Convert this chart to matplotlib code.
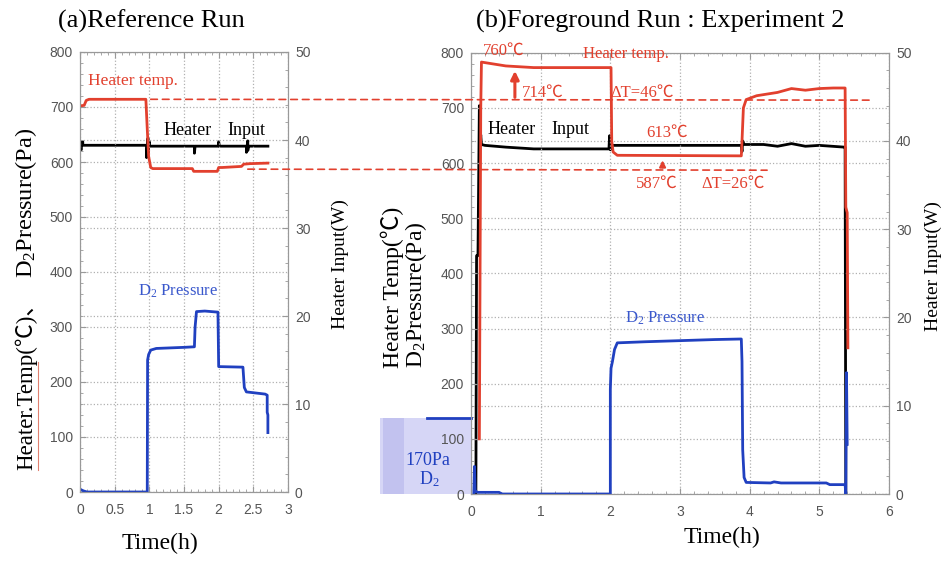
import matplotlib
matplotlib.use("Agg")
import matplotlib.pyplot as plt
from matplotlib.patches import ConnectionPatch, Rectangle
from matplotlib.lines import Line2D
from matplotlib.ticker import MultipleLocator

plt.rcParams['mathtext.fontset'] = 'custom'
plt.rcParams['mathtext.rm'] = 'Liberation Serif'
plt.rcParams['mathtext.it'] = 'Liberation Serif'

SERIF = ['Liberation Serif', 'Noto Sans CJK JP', 'DejaVu Serif']
RED = '#e2402e'
BLUE = '#2040c0'
BLUE_TXT = '#3a58cc'
TICKC = '#555555'

# ---------------- (a) reference run ----------------
ref_temp_t = [0.0, 0.06, 0.09, 0.13, 0.95, 0.97, 0.99, 1.02, 1.05, 1.62, 1.64, 1.98, 2.0, 2.05,
              2.33, 2.36, 2.45, 2.71]
ref_temp = [702, 703, 712, 714, 714, 660, 610, 590, 588, 588, 583, 583, 590, 590, 592, 596, 597, 598]

ref_input_t = [0.0, 0.02, 0.02, 0.04, 0.04, 0.3, 0.96, 0.96, 0.98, 0.98, 1.0, 1.0, 1.65, 1.65,
               1.66, 2.0, 2.0, 2.01, 2.4, 2.4, 2.42, 2.42, 2.43, 2.71]
ref_input = [38.9, 38.9, 39.8, 39.8, 39.4, 39.4, 39.4, 38.0, 40.2, 38.5, 39.8, 39.3, 39.3, 38.5,
             39.3, 39.3, 39.8, 39.3, 39.3, 38.6, 39.9, 38.8, 39.3, 39.3]

ref_d2_t = [0.0, 0.05, 0.1, 0.97, 0.975, 0.99, 1.02, 1.1, 1.5, 1.65, 1.66, 1.68, 1.8, 1.99, 2.0,
            2.35, 2.37, 2.4, 2.67, 2.70, 2.70, 2.71, 2.71]
ref_d2 = [5, 2, 0, 0, 240, 250, 258, 261, 263, 264, 300, 328, 329, 327, 228, 227, 190, 182, 178,
          176, 145, 140, 108]

# ---------------- (b) foreground run ----------------
fg_temp_t = [0.12, 0.13, 0.14, 0.15, 0.2, 0.5, 0.9, 2.01, 2.02, 2.04, 2.1, 3.88, 3.89, 3.91, 3.95,
             4.1, 4.4, 4.6, 4.8, 5.0, 5.2, 5.37, 5.38, 5.40, 5.41]
fg_temp = [100, 400, 700, 783, 782, 776, 773, 773, 640, 620, 614, 613, 640, 700, 715, 722, 728,
           735, 732, 735, 736, 736, 520, 510, 265]

fg_input_t = [0.07, 0.08, 0.1, 0.12, 0.13, 0.14, 0.15, 0.2, 0.5, 0.9, 1.5, 1.98, 1.99, 2.0, 2.02,
              2.05, 2.5, 3.0, 3.88, 3.89, 3.9, 3.92, 4.2, 4.4, 4.6, 4.8, 5.0, 5.36, 5.37, 5.38]
fg_input = [0, 27, 27, 44, 39.5, 40.7, 39.6, 39.5, 39.3, 39.1, 39.1, 39.1, 40.6, 39.0, 39.5, 39.5,
            39.5, 39.5, 39.5, 38.8, 40.0, 39.6, 39.6, 39.4, 39.7, 39.4, 39.5, 39.3, 39.3, 0]

fg_d2_t = [0.04, 0.05, 0.06, 0.08, 0.1, 0.4, 0.45, 2.0, 2.0, 2.01, 2.03, 2.06, 2.1, 2.5, 3.0, 3.5,
           3.88, 3.89, 3.9, 3.92, 3.95, 4.3, 4.35, 4.45, 5.1, 5.15, 5.37, 5.38, 5.39, 5.40]
fg_d2 = [0, 50, 5, 4, 3, 3, 0, 0, 190, 228, 240, 262, 274, 276, 278, 280, 281, 240, 80, 30, 21, 20,
         22, 20, 20, 17, 17, 0, 220, 90]

# initial D2 fill marker (outside plot, left of t=0)
pre_d2_t = [-0.63, 0.0]
pre_d2 = [138, 138]

# reference temperatures (dashed lines)
temp_hi = 714
temp_lo = 587


def px(x, y):
    return x / 948.0, 1 - y / 562.0


def style_axes(ax, ax2, xmax, xmajor, xminor):
    ax.set_xlim(0, xmax)
    ax.set_ylim(0, 800)
    ax2.set_ylim(0, 50)
    ax.xaxis.set_major_locator(MultipleLocator(xmajor))
    ax.xaxis.set_minor_locator(MultipleLocator(xminor))
    ax.yaxis.set_major_locator(MultipleLocator(100))
    ax.yaxis.set_minor_locator(MultipleLocator(20))
    ax2.yaxis.set_major_locator(MultipleLocator(10))
    ax2.yaxis.set_minor_locator(MultipleLocator(2))
    ax.tick_params(which='both', direction='in', top=True, right=False, colors='#999999',
                   labelcolor=TICKC, labelsize=10)
    ax.tick_params(which='major', length=4, pad=5)
    ax.tick_params(axis='x', which='major', pad=8)
    ax.tick_params(which='minor', length=2)
    ax2.tick_params(which='both', direction='in', colors='#999999', labelcolor=TICKC, labelsize=10)
    ax2.tick_params(which='major', length=4, pad=5)
    ax2.tick_params(which='minor', length=2)
    for a in (ax, ax2):
        for s in a.spines.values():
            s.set_color('#999999')
            s.set_linewidth(0.8)
    ax.grid(True, which='major', color='#b0b0b0', ls=':', lw=0.9)
    ax2.grid(True, which='major', axis='y', color='#b0b0b0', ls=':', lw=0.9)
    for lab in ax.get_xticklabels() + ax.get_yticklabels() + ax2.get_yticklabels():
        lab.set_family('Liberation Sans')


fig = plt.figure(figsize=(9.48, 5.62), dpi=100)

# ----- panel a -----
axa = fig.add_axes([80 / 948, 1 - 492 / 562, 208 / 948, 440 / 562])
axa2 = axa.twinx()
axa.set_zorder(axa2.get_zorder() + 1)
axa.patch.set_visible(False)
axa2.plot(ref_input_t, ref_input, color='black', lw=2)
axa.plot(ref_temp_t, ref_temp, color=RED, lw=2)
axa.plot(ref_d2_t, ref_d2, color=BLUE, lw=2)
style_axes(axa, axa2, 3, 0.5, 0.1)
axa.set_xticks([0, 0.5, 1, 1.5, 2, 2.5, 3])
axa.set_xticklabels(['0', '0.5', '1', '1.5', '2', '2.5', '3'])
for lab in axa.get_xticklabels():
    lab.set_family('Liberation Sans')

axa.text(0.12, 747, 'Heater temp.', color=RED, fontsize=12.5, family=SERIF, va='center')
axa.text(1.2, 658, 'Heater', color='black', fontsize=13, family=SERIF, va='center')
axa.text(2.13, 658, 'Input', color='black', fontsize=13, family=SERIF, va='center')
axa.text(0.84, 365, 'D$_2$ Pressure', color=BLUE_TXT, fontsize=12, family=SERIF, va='center')

# ----- panel b -----
axb = fig.add_axes([471 / 948, 1 - 494 / 562, 418 / 948, 441.3 / 562])
axb2 = axb.twinx()
axb.set_zorder(axb2.get_zorder() + 1)
axb.patch.set_visible(False)
axb2.plot(fg_input_t, fg_input, color='black', lw=2)
axb.plot(fg_temp_t, fg_temp, color=RED, lw=2)
axb.plot(fg_d2_t, fg_d2, color=BLUE, lw=2)
style_axes(axb, axb2, 6, 1, 0.2)

# initial D2 box left of the axis
axb.add_patch(Rectangle((-1.31, 0), 1.31, 138, facecolor='#d6d6f6', edgecolor='none',
                        clip_on=False, zorder=0))
axb.add_patch(Rectangle((-1.26, 0), 0.30, 138, facecolor='#c2c2ef', edgecolor='none',
                        clip_on=False, zorder=0))
axb.plot(pre_d2_t, pre_d2, color=BLUE, lw=2, clip_on=False)
axb.text(-0.62, 61, '170Pa', color=BLUE, fontsize=13, family=SERIF, ha='center', va='center')
axb.text(-0.60, 27, 'D$_2$', color=BLUE, fontsize=13, family=SERIF, ha='center', va='center')

axb.text(0.17, 803, '760℃', color=RED, fontsize=12, family=SERIF, va='center', clip_on=False)
axb.text(1.61, 797, 'Heater temp.', color=RED, fontsize=12, family=SERIF, va='center')
axb.annotate('', xy=(0.63, 772), xytext=(0.63, temp_hi),
             arrowprops=dict(arrowstyle='-|>', color=RED, lw=2.2, mutation_scale=12))
axb.text(0.73, 728, '714℃', color=RED, fontsize=12, family=SERIF, va='center')
axb.text(2.0, 728, 'ΔT=46℃', color=RED, fontsize=12, family=SERIF, va='center')
axb.text(0.24, 660, 'Heater', color='black', fontsize=13, family=SERIF, va='center')
axb.text(1.16, 660, 'Input', color='black', fontsize=13, family=SERIF, va='center')
axb.text(2.52, 654, '613℃', color=RED, fontsize=12, family=SERIF, va='center')
axb.annotate('', xy=(2.75, 610), xytext=(2.75, temp_lo),
             arrowprops=dict(arrowstyle='-|>', color=RED, lw=1.5, mutation_scale=9))
axb.text(2.37, 563, '587℃', color=RED, fontsize=12, family=SERIF, va='center')
axb.text(3.31, 563, 'ΔT=26℃', color=RED, fontsize=12, family=SERIF, va='center')
axb.text(2.21, 319, 'D$_2$ Pressure', color=BLUE_TXT, fontsize=12, family=SERIF, va='center')

# dashed reference lines spanning both panels
for (xa, xb, yv) in [(1.02, 5.72, temp_hi), (2.42, 4.25, temp_lo)]:
    con = ConnectionPatch(xyA=(xa, yv), coordsA=axa.transData, xyB=(xb, yv), coordsB=axb.transData,
                          color=RED, lw=1.2, ls=(0, (4, 3)), zorder=10)
    fig.add_artist(con)

# titles and axis labels
fig.text(*px(58, 21), '(a)Reference Run', fontsize=19, family=SERIF, va='center', ha='left')
fig.text(*px(476, 21), '(b)Foreground Run : Experiment 2', fontsize=19, family=SERIF,
         va='center', ha='left')
fig.text(*px(26, 470), 'Heater.Temp(℃)、', fontsize=16.5, family=SERIF,
         rotation=90, ha='center', va='bottom')
fig.text(*px(26, 128), 'D$_2$Pressure(Pa)', fontsize=17.5, family=SERIF,
         rotation=90, ha='center', va='top')
fig.add_artist(Line2D([38 / 948, 38 / 948], [1 - 470 / 562, 1 - 362 / 562], color='#e08070', lw=0.8))
fig.text(*px(340, 264), 'Heater Input(W)', fontsize=14, family=SERIF, rotation=90,
         ha='center', va='center')
fig.text(*px(392, 287), 'Heater Temp(℃)', fontsize=17, family=SERIF,
         rotation=90, ha='center', va='center')
fig.text(*px(416, 295), 'D$_2$Pressure(Pa)', fontsize=17, family=SERIF,
         rotation=90, ha='center', va='center')
fig.text(*px(933, 266), 'Heater Input(W)', fontsize=14, family=SERIF, rotation=90,
         ha='center', va='center')
fig.text(*px(160, 543), 'Time(h)', fontsize=17, family=SERIF, ha='center', va='center')
fig.text(*px(722, 537), 'Time(h)', fontsize=17, family=SERIF, ha='center', va='center')

fig.savefig('out.png', dpi=100)
